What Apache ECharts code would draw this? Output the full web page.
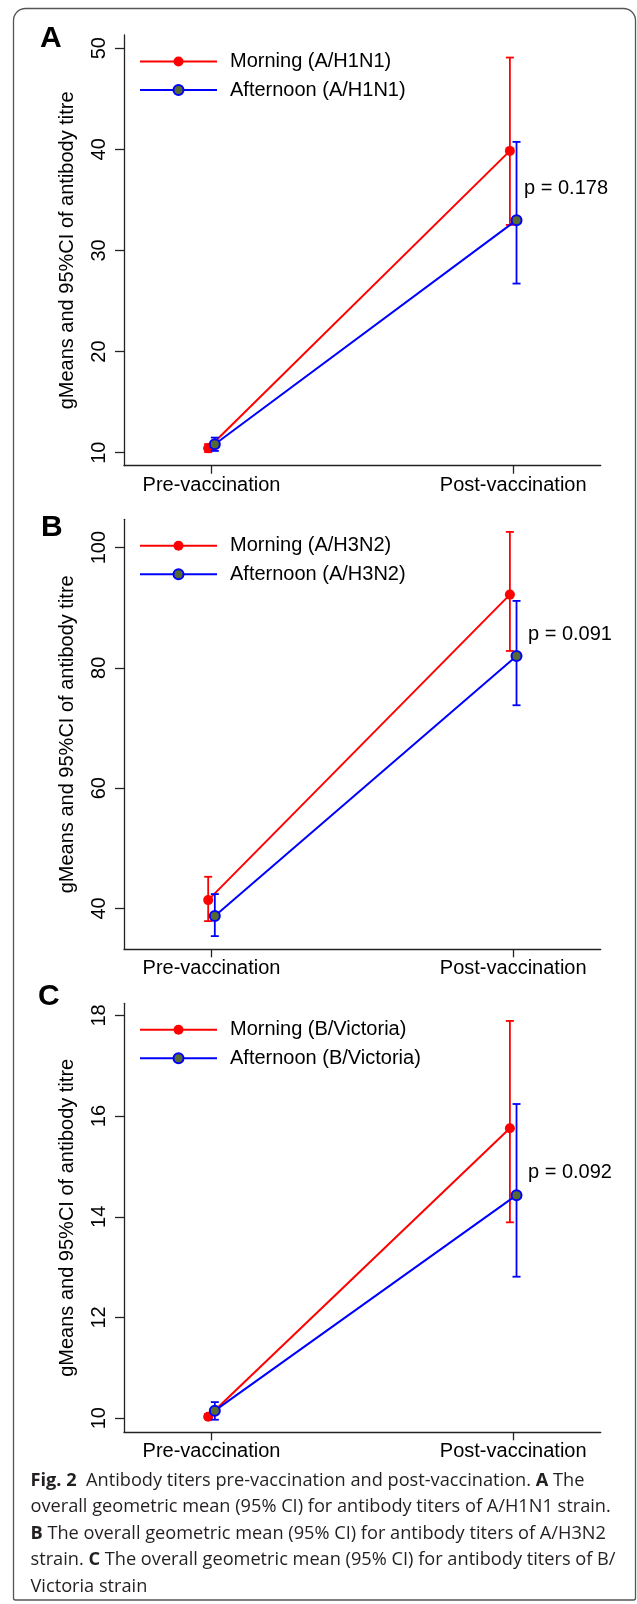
<!DOCTYPE html>
<html lang="en">
<head>
    <meta charset="utf-8">
    <title>Antibody titers pre-vaccination and post-vaccination</title>
    <script src="https://cdn.jsdelivr.net/npm/echarts@6/dist/echarts.min.js"></script>
    <style>
        html, body { margin: 0; padding: 0; background: #fff; }
        #chart { width: 637px; height: 1604px; }
    </style>
</head>
<body>
<div id="chart"></div>
<script type="text/javascript">
    // x categories
    var timepoints = ['Pre-vaccination', 'Post-vaccination'];

    // A/H1N1 : geometric means and 95% CI
    var h1n1Morning = [10.44, 39.84];
    var h1n1MorningLow = [10.05, 32.52];
    var h1n1MorningHigh = [10.85, 49.07];
    var h1n1Afternoon = [10.83, 32.99];
    var h1n1AfternoonLow = [10.17, 26.72];
    var h1n1AfternoonHigh = [11.49, 40.73];

    // A/H3N2
    var h3n2Morning = [41.38, 92.18];
    var h3n2MorningLow = [37.89, 82.81];
    var h3n2MorningHigh = [45.26, 102.61];
    var h3n2Afternoon = [38.72, 81.98];
    var h3n2AfternoonLow = [35.39, 73.78];
    var h3n2AfternoonHigh = [42.38, 91.13];

    // B/Victoria
    var victoriaMorning = [10.03, 15.76];
    var victoriaMorningLow = [9.99, 13.89];
    var victoriaMorningHigh = [10.08, 17.89];
    var victoriaAfternoon = [10.15, 14.43];
    var victoriaAfternoonLow = [9.97, 12.81];
    var victoriaAfternoonHigh = [10.32, 16.24];

    // y tick labels per panel
    var h1n1Ticks = [10, 20, 30, 40, 50];
    var h3n2Ticks = [40, 60, 80, 100];
    var victoriaTicks = [10, 12, 14, 16, 18];

    var pValues = ['p = 0.178', 'p = 0.091', 'p = 0.092'];

    var FONT = "'Liberation Sans', Arial, sans-serif";
    var CAPFONT = "'Open Sans', sans-serif";
    var RED = '#ff0000', BLUE = '#0000ff', OLIVE = '#556b2f';
    var DODGE = 0.011;   // small side-by-side shift of the two groups

    var panels = [
        { letter: 'A', strain: 'A/H1N1', top: 35, height: 430.7, yMin: 8.71, yMax: 51.3, ticks: h1n1Ticks,
          m: h1n1Morning, mLo: h1n1MorningLow, mHi: h1n1MorningHigh,
          a: h1n1Afternoon, aLo: h1n1AfternoonLow, aHi: h1n1AfternoonHigh,
          p: pValues[0], pAt: [1.036, 36.1], letterY: 24, letterX: 40 },
        { letter: 'B', strain: 'A/H3N2', top: 519.3, height: 430, yMin: 33.2, yMax: 104.7, ticks: h3n2Ticks,
          m: h3n2Morning, mLo: h3n2MorningLow, mHi: h3n2MorningHigh,
          a: h3n2Afternoon, aLo: h3n2AfternoonLow, aHi: h3n2AfternoonHigh,
          p: pValues[1], pAt: [1.049, 85.6], letterY: 513, letterX: 41 },
        { letter: 'C', strain: 'B/Victoria', top: 1003.3, height: 429, yMin: 9.72, yMax: 18.24, ticks: victoriaTicks,
          m: victoriaMorning, mLo: victoriaMorningLow, mHi: victoriaMorningHigh,
          a: victoriaAfternoon, aLo: victoriaAfternoonLow, aHi: victoriaAfternoonHigh,
          p: pValues[2], pAt: [1.049, 14.88], letterY: 982, letterX: 38 }
    ];

    function errorBar(params, api) {
        var x = api.value(0);
        var lo = api.coord([x, api.value(1)]);
        var hi = api.coord([x, api.value(2)]);
        var hw = 4;
        var st = { stroke: api.visual('color'), lineWidth: 1.8 };
        return {
            type: 'group',
            children: [
                { type: 'line', shape: { x1: lo[0], y1: lo[1], x2: hi[0], y2: hi[1] }, style: st },
                { type: 'line', shape: { x1: lo[0] - hw, y1: lo[1], x2: lo[0] + hw, y2: lo[1] }, style: st },
                { type: 'line', shape: { x1: hi[0] - hw, y1: hi[1], x2: hi[0] + hw, y2: hi[1] }, style: st }
            ]
        };
    }

    var grids = [], xAxes = [], yAxes = [], legends = [], series = [], graphics = [];

    panels.forEach(function (pn, i) {
        grids.push({ left: 124, top: pn.top, width: 476.7, height: pn.height, outerBoundsMode: 'none' });

        xAxes.push({
            type: 'value', gridIndex: i, min: -0.29, max: 1.29,
            splitLine: { show: false },
            axisLine: { onZero: false, lineStyle: { color: '#222', width: 1.3 } },
            axisTick: { customValues: [0, 1], length: 8, lineStyle: { color: '#222', width: 1.3 } },
            axisLabel: {
                customValues: [0, 1], margin: 9.5, fontSize: 20, fontFamily: FONT, color: '#000',
                formatter: function (v) { return timepoints[Math.round(v)]; }
            }
        });

        yAxes.push({
            type: 'value', gridIndex: i, min: pn.yMin, max: pn.yMax,
            splitLine: { show: false },
            axisLine: { show: true, onZero: false, lineStyle: { color: '#222', width: 1.3 } },
            axisTick: { show: true, customValues: pn.ticks, length: 9, lineStyle: { color: '#222', width: 1.3 } },
            axisLabel: { customValues: pn.ticks, rotate: 90, margin: 15, fontSize: 20, fontFamily: FONT, color: '#000' },
            name: 'gMeans and 95%CI of antibody titre',
            nameLocation: 'middle', nameGap: 47,
            nameTextStyle: { fontSize: 20, fontFamily: FONT, color: '#000' }
        });

        var mName = 'Morning (' + pn.strain + ')';
        var aName = 'Afternoon (' + pn.strain + ')';

        legends.push({
            orient: 'vertical', left: 139, top: pn.top + 16.5, padding: 0,
            itemWidth: 77, itemHeight: 12.5, itemGap: 8.5,
            data: [mName, aName],
            textStyle: { fontSize: 20, fontFamily: FONT, color: '#000', lineHeight: 20, padding: [0, 0, 0, 8] }
        });

        var mPts = pn.m.map(function (v, k) { return [k - DODGE, v]; });
        var aPts = pn.a.map(function (v, k) { return [k + DODGE, v]; });
        var mBars = pn.m.map(function (v, k) { return [k - DODGE, pn.mLo[k], pn.mHi[k]]; });
        var aBars = pn.a.map(function (v, k) { return [k + DODGE, pn.aLo[k], pn.aHi[k]]; });

        series.push({
            type: 'custom', name: mName + ' CI', xAxisIndex: i, yAxisIndex: i, z: 2,
            itemStyle: { color: RED }, renderItem: errorBar, encode: { x: 0, y: [1, 2] }, data: mBars
        });
        series.push({
            type: 'line', name: mName, xAxisIndex: i, yAxisIndex: i, z: 3,
            symbol: 'circle', symbolSize: 10,
            itemStyle: { color: RED },
            lineStyle: { color: RED, width: 2 },
            data: mPts
        });
        series.push({
            type: 'custom', name: aName + ' CI', xAxisIndex: i, yAxisIndex: i, z: 4,
            itemStyle: { color: BLUE }, renderItem: errorBar, encode: { x: 0, y: [1, 2] }, data: aBars
        });
        series.push({
            type: 'line', name: aName, xAxisIndex: i, yAxisIndex: i, z: 5,
            symbol: 'circle', symbolSize: 10,
            itemStyle: { color: OLIVE, borderColor: BLUE, borderWidth: 2 },
            lineStyle: { color: BLUE, width: 2 },
            data: aPts
        });
        // p-value annotation next to the post-vaccination bars
        series.push({
            type: 'custom', xAxisIndex: i, yAxisIndex: i, z: 6, silent: true,
            encode: { x: 0, y: 1 },
            renderItem: (function (txt) {
                return function (params, api) {
                    var pt = api.coord([api.value(0), api.value(1)]);
                    return {
                        type: 'text', x: pt[0], y: pt[1],
                        style: { text: txt, fontSize: 20, fontFamily: FONT, fill: '#000',
                                 align: 'left', verticalAlign: 'middle' }
                    };
                };
            })(pn.p),
            data: [pn.pAt]
        });

        graphics.push({
            type: 'text', x: pn.letterX, y: pn.letterY,
            style: { text: pn.letter, fontSize: 30, fontWeight: 'bold', fontFamily: FONT, fill: '#000', verticalAlign: 'top' }
        });
    });

    // caption
    var capLines = [
        '{b|Fig. 2}  Antibody titers pre-vaccination and post-vaccination. {b|A} The',
        'overall geometric mean (95% CI) for antibody titers of A/H1N1 strain.',
        '{b|B} The overall geometric mean (95% CI) for antibody titers of A/H3N2',
        'strain. {b|C} The overall geometric mean (95% CI) for antibody titers of B/',
        'Victoria strain'
    ];
    capLines.forEach(function (t, k) {
        graphics.push({
            type: 'text', x: 30.5, y: 1480.5 + k * 26.5,
            style: {
                text: t, fontSize: 18.2, fontFamily: CAPFONT, fill: '#231f20',
                verticalAlign: 'middle',
                rich: { b: { fontSize: 18.2, fontWeight: 'bold', fontFamily: CAPFONT, fill: '#231f20' } }
            }
        });
    });

    // figure frame
    graphics.push({
        type: 'rect', z: -1,
        shape: { x: 13.5, y: 8.5, width: 622, height: 1591.5, r: [12, 12, 2, 2] },
        style: { fill: 'none', stroke: '#555', lineWidth: 1.3 }
    });

    var myChart = echarts.init(document.getElementById('chart'));
    myChart.setOption({
        backgroundColor: '#fff',
        animation: false,
        grid: grids,
        xAxis: xAxes,
        yAxis: yAxes,
        legend: legends,
        series: series,
        graphic: graphics
    });
</script>
</body>
</html>
